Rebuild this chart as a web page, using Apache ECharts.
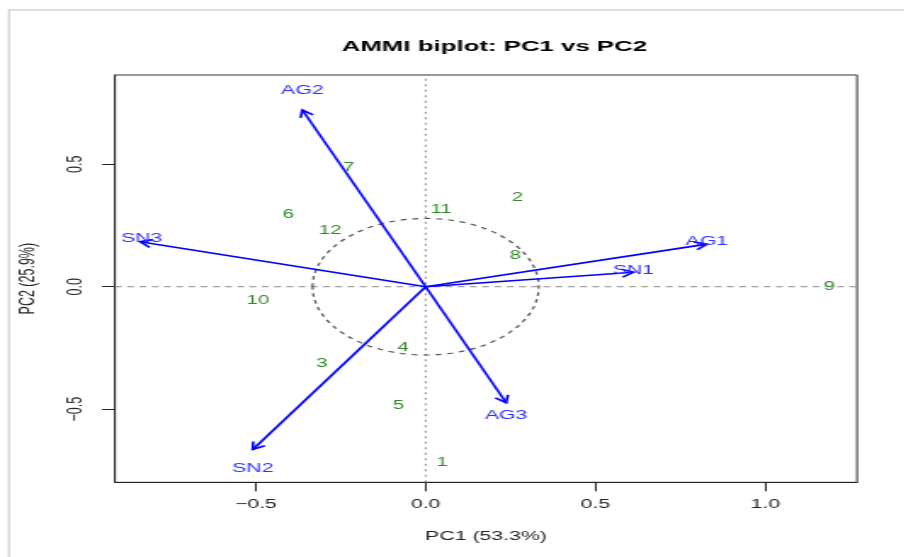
<!DOCTYPE html>
<html>
<head>
<meta charset="utf-8">
<title>AMMI biplot</title>
<script src="https://cdn.jsdelivr.net/npm/echarts@6/dist/echarts.min.js"></script>
<style>
  html, body { margin: 0; padding: 0; background: #fff; overflow: hidden; }
  #wrap { width: 904px; height: 557px; overflow: hidden; position: relative; }
  /* the figure is laid out narrow and widened horizontally */
  #chart { width: 531.76px; height: 557px; transform: scaleX(1.7); transform-origin: 0 0; }
</style>
</head>
<body>
<div id="wrap"><div id="chart"></div></div>
<script>
// Genotype scores on the first two interaction principal components
const genotypes   = ['1', '2', '3', '4', '5', '6', '7', '8', '9', '10', '11', '12'];
const genotypePC1 = [0.048, 0.270, -0.306, -0.067, -0.080, -0.404, -0.227, 0.264, 1.189, -0.494, 0.045, -0.281];
const genotypePC2 = [-0.719, 0.365, -0.313, -0.249, -0.486, 0.293, 0.488, 0.125, 0.000, -0.057, 0.313, 0.228];

// Environment vectors (arrow tips)
const environments   = ['AG1', 'AG2', 'AG3', 'SN1', 'SN2', 'SN3'];
const environmentPC1 = [0.828, -0.363, 0.237, 0.612, -0.509, -0.841];
const environmentPC2 = [0.174, 0.722, -0.474, 0.059, -0.665, 0.184];

// Axis ticks and limits
const pc1Ticks = [-0.5, 0.0, 0.5, 1.0];
const pc2Ticks = [-0.5, 0.0, 0.5];
const pc1Range = [-0.9146, 1.2701];
const pc2Range = [-0.799, 0.865];

// Reference circle radii (in axis units)
const circlePC1 = 0.333;
const circlePC2 = 0.279;

// label nudges for the environment names (px)
const envLabelNudge = {
  AG1: [0, -3], AG2: [0, -19], AG3: [0, 13], SN1: [0, -2], SN2: [0, 19], SN3: [1, -3]
};

const FONT = '"Liberation Sans", Arial, Helvetica, sans-serif';
const ENV_COLOR = '#3030ff';
const GEN_COLOR = '#2f8a26';
const fmt = v => (v < 0 ? '\u2212' : '') + Math.abs(v).toFixed(1);

const chart = echarts.init(document.getElementById('chart'), null, { renderer: 'canvas' });

chart.setOption({
  animation: false,
  backgroundColor: '#fff',
  title: {
    text: 'AMMI biplot: PC1 vs PC2',
    left: 285.8,
    textAlign: 'center',
    top: 34,
    textStyle: { fontFamily: FONT, fontSize: 15.2, fontWeight: 'bold', color: '#000' }
  },
  graphic: [{
    type: 'rect',
    shape: { x: 5.3, y: 10, width: 1000, height: 1000 },
    style: { fill: null, stroke: '#d4d4d4', lineWidth: 1.3 },
    silent: true
  }],
  grid: {
    left: 67.65, right: 27.86, top: 75, bottom: 74.7,
    show: true, borderColor: '#333', borderWidth: 1, backgroundColor: 'transparent'
  },
  xAxis: {
    type: 'value',
    min: pc1Range[0], max: pc1Range[1],
    name: 'PC1 (53.3%)', nameLocation: 'middle', nameGap: 48,
    nameTextStyle: { fontFamily: FONT, fontSize: 12.5, color: '#222' },
    axisLine: { show: true, onZero: false, lineStyle: { color: '#222', width: 1 } },
    axisTick: { show: true, customValues: pc1Ticks, length: 9, lineStyle: { color: '#222', width: 1 } },
    axisLabel: { customValues: pc1Ticks, formatter: fmt, margin: 16, fontFamily: FONT, fontSize: 12.5, color: '#222' },
    splitLine: { show: false }
  },
  yAxis: {
    type: 'value',
    min: pc2Range[0], max: pc2Range[1],
    name: 'PC2 (25.9%)', nameLocation: 'middle', nameGap: 45, nameRotate: 90,
    nameTextStyle: { fontFamily: FONT, fontSize: 12.5, color: '#222' },
    axisLine: { show: true, onZero: false, lineStyle: { color: '#222', width: 1 } },
    axisTick: { show: true, customValues: pc2Ticks, length: 7.6, lineStyle: { color: '#222', width: 1 } },
    axisLabel: { customValues: pc2Ticks, formatter: fmt, rotate: 90, margin: 17, fontFamily: FONT, fontSize: 12.5, color: '#222' },
    splitLine: { show: false }
  },
  series: [
    // zero reference lines and the dashed circle
    {
      type: 'custom',
      coordinateSystem: 'cartesian2d',
      data: [[0, 0]],
      silent: true,
      z: 1,
      renderItem(params, api) {
        const c = api.coord([0, 0]);
        const rx = api.coord([circlePC1, 0])[0] - c[0];
        const ry = c[1] - api.coord([0, circlePC2])[1];
        const x0 = api.coord([pc1Range[0], 0])[0];
        const x1 = api.coord([pc1Range[1], 0])[0];
        const y0 = api.coord([0, pc2Range[0]])[1];
        const y1 = api.coord([0, pc2Range[1]])[1];
        return {
          type: 'group',
          children: [
            { type: 'line', shape: { x1: x0, y1: c[1], x2: x1, y2: c[1] },
              style: { stroke: '#8a8a8a', lineWidth: 1, lineDash: [4, 3.2] } },
            { type: 'line', shape: { x1: c[0], y1: y0, x2: c[0], y2: y1 },
              style: { stroke: '#8a8a8a', lineWidth: 1, lineDash: [2, 3.5] } },
            { type: 'ellipse', shape: { cx: c[0], cy: c[1], rx: rx, ry: ry },
              style: { fill: null, stroke: '#555', lineWidth: 1.2, lineDash: [3.5, 3.5] } }
          ]
        };
      }
    },
    // environment arrows
    {
      type: 'custom',
      coordinateSystem: 'cartesian2d',
      data: environments.map((n, i) => [environmentPC1[i], environmentPC2[i], n]),
      encode: { x: 0, y: 1 },
      silent: true,
      z: 3,
      renderItem(params, api) {
        const o = api.coord([0, 0]);
        const e = api.coord([api.value(0), api.value(1)]);
        const ang = Math.atan2(e[1] - o[1], e[0] - o[0]);
        const L = 8, a = Math.PI / 6;
        const h1 = [e[0] - L * Math.cos(ang - a), e[1] - L * Math.sin(ang - a)];
        const h2 = [e[0] - L * Math.cos(ang + a), e[1] - L * Math.sin(ang + a)];
        const name = environments[params.dataIndex];
        const nudge = envLabelNudge[name];
        return {
          type: 'group',
          children: [
            { type: 'line', shape: { x1: o[0], y1: o[1], x2: e[0], y2: e[1] },
              style: { stroke: '#0000ff', lineWidth: 1.6 } },
            { type: 'polyline', shape: { points: [h1, e, h2] },
              style: { stroke: '#0000ff', lineWidth: 1.6, fill: null } },
            { type: 'text', x: e[0] + nudge[0], y: e[1] + nudge[1],
              style: { text: name, fill: ENV_COLOR, font: '12.5px ' + FONT, align: 'center', verticalAlign: 'middle' } }
          ]
        };
      }
    },
    // genotype labels
    {
      type: 'custom',
      coordinateSystem: 'cartesian2d',
      data: genotypes.map((g, i) => [genotypePC1[i], genotypePC2[i], g]),
      encode: { x: 0, y: 1 },
      silent: true,
      z: 4,
      renderItem(params, api) {
        const p = api.coord([api.value(0), api.value(1)]);
        return {
          type: 'text', x: p[0], y: p[1],
          style: { text: genotypes[params.dataIndex], fill: GEN_COLOR, font: '12px ' + FONT, align: 'center', verticalAlign: 'middle' }
        };
      }
    }
  ]
});
</script>
</body>
</html>
